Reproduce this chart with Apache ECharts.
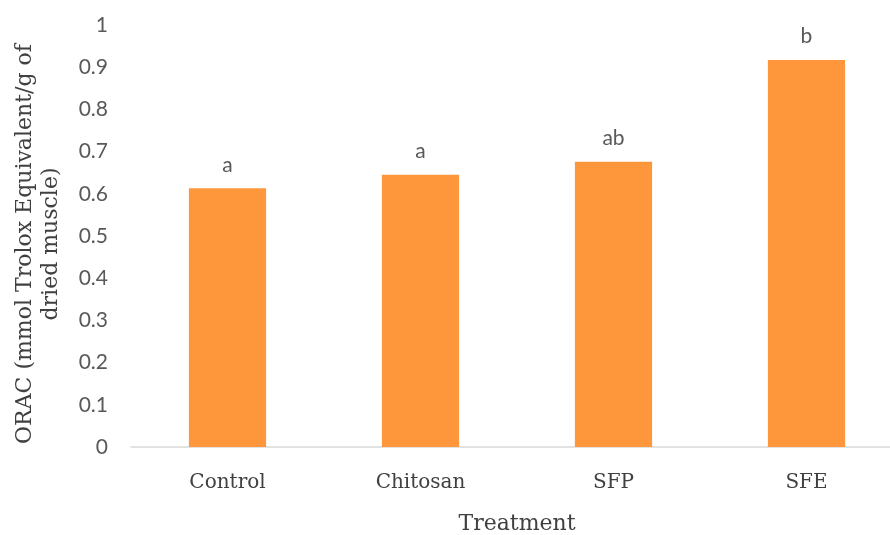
<!DOCTYPE html>
<html>
<head>
<meta charset="utf-8">
<script src="https://cdn.jsdelivr.net/npm/echarts@6/dist/echarts.min.js"></script>
<style>
  html, body { margin: 0; padding: 0; background: #fff; overflow: hidden; }
  #chart { width: 890px; height: 535px; }
</style>
</head>
<body>
<div id="chart"></div>
<script>
// ORAC by treatment, with significance letters above each bar
const categories = ['Control', 'Chitosan', 'SFP', 'SFE'];
const oracValues = [0.613, 0.645, 0.676, 0.917];
const letters = ['a', 'a', 'ab', 'b'];
const yTicks = { min: 0, max: 1, interval: 0.1 };

const serif = '"DejaVu Serif", "Liberation Serif", serif';
const sans = 'Lato, "Open Sans", sans-serif';

const chart = echarts.init(document.getElementById('chart'), null, { renderer: 'canvas' });
chart.setOption({
  animation: false,
  grid: { left: 131, width: 772, top: 25, bottom: 88, outerBoundsMode: 'none', containLabel: false },
  xAxis: {
    type: 'category',
    data: categories,
    name: 'Treatment',
    nameLocation: 'middle',
    nameGap: 66,
    nameTextStyle: { fontFamily: serif, fontSize: 22, color: '#404040' },
    axisLine: { lineStyle: { color: '#D9D9D9', width: 1.5 } },
    axisTick: { show: false },
    axisLabel: { fontFamily: serif, fontSize: 20, color: '#404040', margin: 26 }
  },
  yAxis: {
    type: 'value',
    min: yTicks.min,
    max: yTicks.max,
    interval: yTicks.interval,
    name: 'ORAC (mmol Trolox Equivalent/g of\ndried muscle)',
    nameLocation: 'middle',
    nameGap: 67,
    nameTextStyle: {
      fontFamily: serif, fontSize: 22, color: '#404040', lineHeight: 26,
      padding: [0, 16, 0, 0]
    },
    splitLine: { show: false },
    axisLine: { show: false },
    axisTick: { show: false },
    axisLabel: {
      fontFamily: sans, fontSize: 21, color: '#595959', margin: 23,
      formatter: v => String(Math.round(v * 10) / 10)
    }
  },
  series: [{
    type: 'bar',
    data: oracValues,
    barWidth: '40%',
    itemStyle: { color: '#FE963C' },
    label: {
      show: true,
      position: 'top',
      distance: 13,
      fontFamily: sans,
      fontSize: 21,
      color: '#595959',
      formatter: p => letters[p.dataIndex]
    }
  }]
});
</script>
</body>
</html>
